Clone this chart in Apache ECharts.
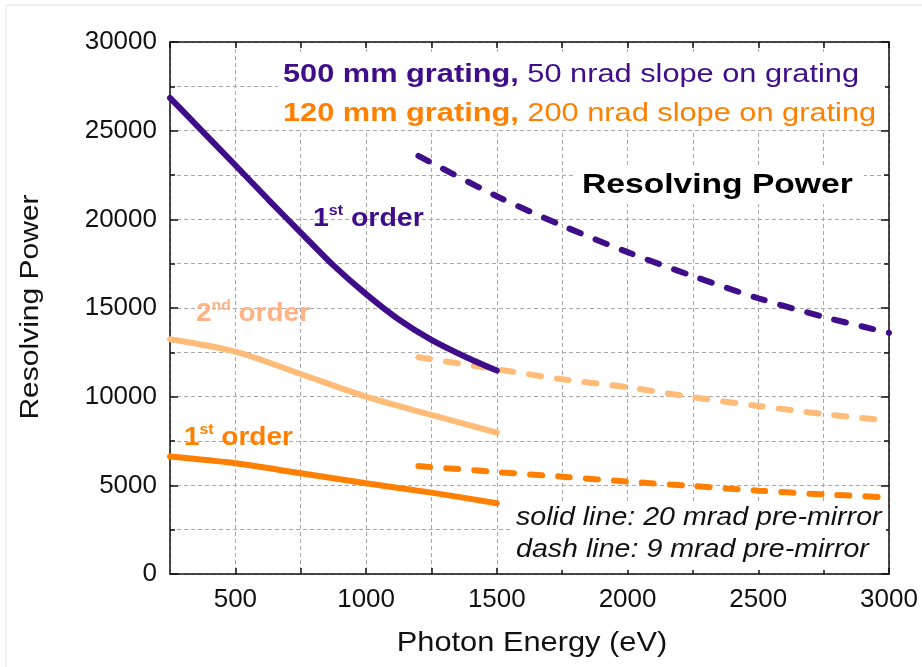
<!DOCTYPE html>
<html>
<head>
<meta charset="utf-8">
<script src="https://cdn.jsdelivr.net/npm/echarts@6.0.0/dist/echarts.min.js"></script>
<style>
  html, body { margin: 0; padding: 0; background: #fff; }
  #chart { width: 922px; height: 667px; }
</style>
</head>
<body>
<div id="chart"></div>
<script>
// ---- data ----
const energySolid   = [250, 375, 500, 625, 750, 875, 1000, 1125, 1250, 1375, 1500];
const purpleSolid   = [26850, 24950, 23050, 21130, 19250, 17400, 15780, 14350, 13200, 12280, 11470];
const energyShort   = [250, 500, 750, 1000, 1250, 1500];
const lightSolid    = [13240, 12540, 11280, 10000, 8970, 7970];
const orangeSolid   = [6620, 6240, 5680, 5115, 4590, 3990];
const energyDash    = [1200, 1500, 1750, 2000, 2250, 2500, 2750, 3000];
const purpleDash    = [23580, 21300, 19650, 18150, 16800, 15550, 14500, 13600];
const lightDash     = [12220, 11545, 10980, 10530, 9970, 9475, 9020, 8650];
const orangeDash    = [6090, 5750, 5490, 5210, 4960, 4700, 4490, 4320];
const xTickLabels   = [500, 1000, 1500, 2000, 2500, 3000];
const yTickLabels   = [0, 5000, 10000, 15000, 20000, 25000, 30000];

const PURPLE = '#3f0c8a';
const ORANGE = '#ff8000';
const LIGHT  = '#ffbb78';
const LIGHT_TXT = '#ffb384';

const pairs = (xs, ys) => xs.map((x, i) => [x, ys[i]]);

const chart = echarts.init(document.getElementById('chart'), null, { renderer: 'canvas' });

const gridLine = { show: true, lineStyle: { color: '#a8a8a8', type: [4, 3], width: 1 } };
const axLine = { show: true, onZero: false, lineStyle: { color: '#111', width: 1.5 } };
const tickFont = { fontFamily: 'Liberation Sans', fontSize: 26, color: '#111' };

function lineSeries(xs, ys, color, dashed) {
  return {
    type: 'line',
    data: pairs(xs, ys),
    showSymbol: false,
    smooth: 0.3,
    xAxisIndex: 0, yAxisIndex: 0,
    lineStyle: dashed
      ? { color: color, width: 6, type: [12, 16], cap: 'round' }
      : { color: color, width: 6, cap: 'round' },
    emphasis: { disabled: true },
    animation: false
  };
}

const sup = (size) => ({ fontSize: size, fontWeight: 'bold', verticalAlign: 'top', lineHeight: 30 });

const option = {
  animation: false,
  backgroundColor: '#fff',
  grid: { left: 170, right: 33, top: 42, bottom: 93, outerBoundsMode: 'none', containLabel: false },
  xAxis: [
    {
      type: 'value', position: 'bottom', min: 250, max: 3000, interval: 250,
      axisLine: axLine,
      axisTick: { show: true, inside: true, length: 6, lineStyle: { color: '#111', width: 1.5 } },
      axisLabel: Object.assign({
        margin: 13, showMaxLabel: true, showMinLabel: false,
        formatter: v => xTickLabels.includes(v) ? String(v) : ''
      }, tickFont),
      splitLine: gridLine
    },
    {
      type: 'value', position: 'top', min: 250, max: 3000, interval: 250,
      axisLine: axLine,
      axisTick: { show: true, inside: true, length: 6, lineStyle: { color: '#111', width: 1.5 } },
      axisLabel: { show: false },
      splitLine: { show: false }
    }
  ],
  yAxis: [
    {
      type: 'value', position: 'left', min: 0, max: 30000, interval: 5000,
      axisLine: axLine,
      axisTick: { show: true, inside: true, length: 8, lineStyle: { color: '#111', width: 1.5 } },
      minorTick: { show: true, splitNumber: 2, length: 5, lineStyle: { color: '#111', width: 1.5 } },
      axisLabel: Object.assign({
        margin: 13,
        formatter: v => yTickLabels.includes(v) ? String(v) : ''
      }, tickFont),
      splitLine: gridLine,
      minorSplitLine: gridLine
    },
    {
      type: 'value', position: 'right', min: 0, max: 30000, interval: 5000,
      axisLine: axLine,
      axisTick: { show: true, inside: true, length: 8, lineStyle: { color: '#111', width: 1.5 } },
      minorTick: { show: true, splitNumber: 2, length: 5, lineStyle: { color: '#111', width: 1.5 } },
      axisLabel: { show: false },
      splitLine: { show: false }
    }
  ],
  series: [
    lineSeries(energyDash, orangeDash, ORANGE, true),
    lineSeries(energyDash, lightDash, LIGHT, true),
    lineSeries(energyShort, orangeSolid, ORANGE, false),
    lineSeries(energyShort, lightSolid, LIGHT, false),
    lineSeries(energyDash, purpleDash, PURPLE, true),
    lineSeries(energySolid, purpleSolid, PURPLE, false)
  ],
  graphic: [
    // faint picture frame
    { type: 'line', shape: { x1: 6, y1: 5, x2: 922, y2: 5 }, style: { stroke: '#e2e2e2', lineWidth: 1 }, z: 1 },
    { type: 'line', shape: { x1: 6, y1: 5, x2: 6, y2: 667 }, style: { stroke: '#e2e2e2', lineWidth: 1 }, z: 1 },
    // white boxes behind annotations
    { type: 'rect', shape: { x: 278, y: 52, width: 607, height: 78 }, style: { fill: '#fff' }, z: 1 },
    { type: 'rect', shape: { x: 576, y: 168, width: 288, height: 36 }, style: { fill: '#fff' }, z: 1 },
    { type: 'rect', shape: { x: 510, y: 501, width: 376, height: 69 }, style: { fill: '#fff' }, z: 1 },
    // top annotations
    {
      type: 'text', x: 283, y: 75, scaleX: 1.23, z: 10,
      style: {
        text: '{b|500 mm grating,}{n| 50 nrad slope on grating}',
        fill: PURPLE, fontFamily: 'Liberation Sans', fontSize: 25, verticalAlign: 'middle',
        rich: { b: { fontWeight: 'bold', fontSize: 25, fill: PURPLE }, n: { fontWeight: 'normal', fontSize: 25, fill: PURPLE } }
      }
    },
    {
      type: 'text', x: 283, y: 114, scaleX: 1.23, z: 10,
      style: {
        text: '{b|120 mm grating,}{n| 200 nrad slope on grating}',
        fill: ORANGE, fontFamily: 'Liberation Sans', fontSize: 25, verticalAlign: 'middle',
        rich: { b: { fontWeight: 'bold', fontSize: 25, fill: ORANGE }, n: { fontWeight: 'normal', fontSize: 25, fill: ORANGE } }
      }
    },
    {
      type: 'text', x: 582, y: 185, scaleX: 1.2, z: 10,
      style: { text: 'Resolving Power', fill: '#000', fontFamily: 'Liberation Sans', fontWeight: 'bold', fontSize: 28, verticalAlign: 'middle' }
    },
    // order labels
    {
      type: 'text', x: 313, y: 219, scaleX: 1.14, z: 10,
      style: {
        text: '{m|1}{s|st}{m| order}', fill: PURPLE, fontFamily: 'Liberation Sans', verticalAlign: 'middle',
        rich: { m: { fontSize: 25, fontWeight: 'bold', lineHeight: 30, fill: PURPLE }, s: Object.assign(sup(14), { fill: PURPLE }) }
      }
    },
    {
      type: 'text', x: 196, y: 314, scaleX: 1.12, z: 10,
      style: {
        text: '{m|2}{s|nd}{m| order}', fill: LIGHT_TXT, fontFamily: 'Liberation Sans', verticalAlign: 'middle',
        rich: { m: { fontSize: 25, fontWeight: 'bold', lineHeight: 30, fill: LIGHT_TXT }, s: Object.assign(sup(14), { fill: LIGHT_TXT }) }
      }
    },
    {
      type: 'text', x: 184, y: 438, scaleX: 1.12, z: 10,
      style: {
        text: '{m|1}{s|st}{m| order}', fill: ORANGE, fontFamily: 'Liberation Sans', verticalAlign: 'middle',
        rich: { m: { fontSize: 25, fontWeight: 'bold', lineHeight: 30, fill: ORANGE }, s: Object.assign(sup(14), { fill: ORANGE }) }
      }
    },
    // legend-like notes
    {
      type: 'text', x: 516, y: 518, scaleX: 1.1, z: 10,
      style: { text: 'solid line: 20 mrad pre-mirror', fill: '#111', fontFamily: 'Liberation Sans', fontStyle: 'italic', fontSize: 26, verticalAlign: 'middle' }
    },
    {
      type: 'text', x: 516, y: 550, scaleX: 1.1, z: 10,
      style: { text: 'dash line: 9 mrad pre-mirror', fill: '#111', fontFamily: 'Liberation Sans', fontStyle: 'italic', fontSize: 26, verticalAlign: 'middle' }
    },
    // axis names
    {
      type: 'text', x: 532, y: 643, scaleX: 1.1, z: 10,
      style: { text: 'Photon Energy (eV)', fill: '#111', fontFamily: 'Liberation Sans', fontSize: 28, align: 'center', verticalAlign: 'middle' }
    },
    {
      type: 'text', x: 31, y: 307, rotation: Math.PI / 2, scaleX: 1.2, z: 10,
      style: { text: 'Resolving Power', fill: '#111', fontFamily: 'Liberation Sans', fontSize: 25, align: 'center', verticalAlign: 'middle' }
    }
  ]
};

chart.setOption(option);
</script>
</body>
</html>
